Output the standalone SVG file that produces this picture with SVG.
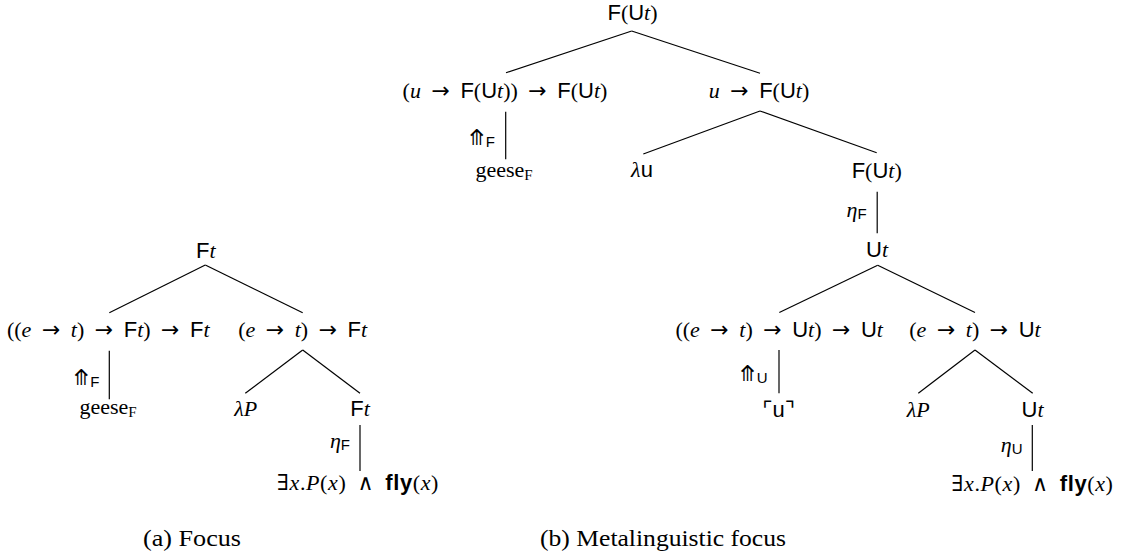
<svg xmlns="http://www.w3.org/2000/svg" width="1121" height="558" viewBox="0 0 1121 558">
<style>
text{font-family:"Liberation Serif","DejaVu Serif",serif;font-size:22px;fill:#000}
.m{text-anchor:middle}
.e{text-anchor:end}
.w{word-spacing:5px}
.wf{word-spacing:5px;letter-spacing:0.6px}
.i{font-style:italic}
.s{font-family:"Liberation Sans","DejaVu Sans",sans-serif}
.b{font-weight:bold}
.sym{font-family:"DejaVu Sans",sans-serif}
.ar{font-family:"DejaVu Sans",sans-serif}
.sub{font-size:15px}
.cap{font-size:23px}
#edges line{stroke:#000;stroke-width:1.2}
</style>
<rect width="1121" height="558" fill="#fff"/>
<g id="edges">
<line x1="631.7" y1="31" x2="506" y2="72.7"/>
<line x1="631.7" y1="31" x2="760" y2="73.3"/>
<line x1="505.7" y1="111.7" x2="505.7" y2="159.3"/>
<line x1="760" y1="111" x2="643.3" y2="154"/>
<line x1="760" y1="111" x2="876.7" y2="152.7"/>
<line x1="877.2" y1="191.7" x2="877.2" y2="233.3"/>
<line x1="877.7" y1="265.3" x2="779.3" y2="312.5"/>
<line x1="877.7" y1="265.3" x2="975" y2="312.5"/>
<line x1="779" y1="350" x2="779" y2="393.3"/>
<line x1="975" y1="350" x2="918.3" y2="393.3"/>
<line x1="975" y1="350" x2="1032.7" y2="393.3"/>
<line x1="1032.3" y1="425" x2="1032.3" y2="471"/>
<line x1="205.3" y1="265" x2="109.3" y2="312.7"/>
<line x1="205.3" y1="265" x2="302.7" y2="312.7"/>
<line x1="109.3" y1="350.7" x2="109.3" y2="399.3"/>
<line x1="302.7" y1="350" x2="245.3" y2="393.3"/>
<line x1="302.7" y1="350" x2="360" y2="393.3"/>
<line x1="360" y1="425" x2="360" y2="471"/>
</g>
<g id="b-root"><text class="m" x="632.5" y="19.5"><tspan class="s">F</tspan>(<tspan class="s">U</tspan><tspan class="i">t</tspan>)</text></g>
<g id="b-lift"><text class="m w" x="505" y="98">(<tspan class="i">u</tspan> <tspan class="ar">→</tspan> <tspan class="s">F</tspan>(<tspan class="s">U</tspan><tspan class="i">t</tspan>)) <tspan class="ar">→</tspan> <tspan class="s">F</tspan>(<tspan class="s">U</tspan><tspan class="i">t</tspan>)</text></g>
<g id="b-lift-label"><text class="e" x="495" y="145"><tspan class="sym">⤊</tspan><tspan class="s sub" dy="2">F</tspan></text></g>
<g id="b-geese"><text class="m" x="504" y="177">geese<tspan class="sub" dy="3">F</tspan></text></g>
<g id="b-fun"><text class="m w" x="759" y="98"><tspan class="i">u</tspan> <tspan class="ar">→</tspan> <tspan class="s">F</tspan>(<tspan class="s">U</tspan><tspan class="i">t</tspan>)</text></g>
<g id="b-lambda-u"><text class="m" x="642" y="177"><tspan class="i">λ</tspan><tspan class="s">u</tspan></text></g>
<g id="b-FUt"><text class="m" x="876.7" y="178"><tspan class="s">F</tspan>(<tspan class="s">U</tspan><tspan class="i">t</tspan>)</text></g>
<g id="b-etaF-label"><text class="e" x="866.7" y="217"><tspan class="i">η</tspan><tspan class="s sub" dy="2">F</tspan></text></g>
<g id="b-Ut"><text class="m" x="877" y="257"><tspan class="s">U</tspan><tspan class="i">t</tspan></text></g>
<g id="b-liftU"><text class="m w" x="779.2" y="337">((<tspan class="i">e</tspan> <tspan class="ar">→</tspan> <tspan class="i">t</tspan>) <tspan class="ar">→</tspan> <tspan class="s">U</tspan><tspan class="i">t</tspan>) <tspan class="ar">→</tspan> <tspan class="s">U</tspan><tspan class="i">t</tspan></text></g>
<g id="b-liftU-label"><text class="e" x="767.5" y="381"><tspan class="sym">⤊</tspan><tspan class="s sub" dy="2">U</tspan></text></g>
<g id="b-quote"><text class="m" x="778.7" y="417"><tspan class="sym">⌜</tspan><tspan class="s">u</tspan><tspan class="sym">⌝</tspan></text></g>
<g id="b-pred"><text class="m w" x="975" y="337">(<tspan class="i">e</tspan> <tspan class="ar">→</tspan> <tspan class="i">t</tspan>) <tspan class="ar">→</tspan> <tspan class="s">U</tspan><tspan class="i">t</tspan></text></g>
<g id="b-lambdaP"><text class="m" x="918.3" y="417"><tspan class="i">λP</tspan></text></g>
<g id="b-Ut2"><text class="m" x="1032.5" y="417"><tspan class="s">U</tspan><tspan class="i">t</tspan></text></g>
<g id="b-etaU-label"><text class="e" x="1022.5" y="452"><tspan class="i">η</tspan><tspan class="s sub" dy="2">U</tspan></text></g>
<g id="b-formula"><text class="m wf" x="1032.5" y="491">∃<tspan class="i">x</tspan>.<tspan class="i">P</tspan>(<tspan class="i">x</tspan>) ∧ <tspan class="s b">fly</tspan>(<tspan class="i">x</tspan>)</text></g>
<g id="a-root"><text class="m" x="205.8" y="258"><tspan class="s">F</tspan><tspan class="i">t</tspan></text></g>
<g id="a-lift"><text class="m w" x="108.3" y="337">((<tspan class="i">e</tspan> <tspan class="ar">→</tspan> <tspan class="i">t</tspan>) <tspan class="ar">→</tspan> <tspan class="s">F</tspan><tspan class="i">t</tspan>) <tspan class="ar">→</tspan> <tspan class="s">F</tspan><tspan class="i">t</tspan></text></g>
<g id="a-lift-label"><text class="e" x="99.5" y="385"><tspan class="sym">⤊</tspan><tspan class="s sub" dy="2">F</tspan></text></g>
<g id="a-geese"><text class="m" x="108" y="414">geese<tspan class="sub" dy="3">F</tspan></text></g>
<g id="a-pred"><text class="m w" x="302.7" y="337">(<tspan class="i">e</tspan> <tspan class="ar">→</tspan> <tspan class="i">t</tspan>) <tspan class="ar">→</tspan> <tspan class="s">F</tspan><tspan class="i">t</tspan></text></g>
<g id="a-lambdaP"><text class="m" x="245.8" y="416"><tspan class="i">λP</tspan></text></g>
<g id="a-Ft"><text class="m" x="360" y="416"><tspan class="s">F</tspan><tspan class="i">t</tspan></text></g>
<g id="a-etaF-label"><text class="e" x="350" y="448"><tspan class="i">η</tspan><tspan class="s sub" dy="2">F</tspan></text></g>
<g id="a-formula"><text class="m wf" x="358" y="490">∃<tspan class="i">x</tspan>.<tspan class="i">P</tspan>(<tspan class="i">x</tspan>) ∧ <tspan class="s b">fly</tspan>(<tspan class="i">x</tspan>)</text></g>
<g id="caption-a"><text class="cap" x="143" y="546" textLength="98" lengthAdjust="spacingAndGlyphs">(a) Focus</text></g>
<g id="caption-b"><text class="cap" x="540" y="546" textLength="246" lengthAdjust="spacingAndGlyphs">(b) Metalinguistic focus</text></g>
</svg>
